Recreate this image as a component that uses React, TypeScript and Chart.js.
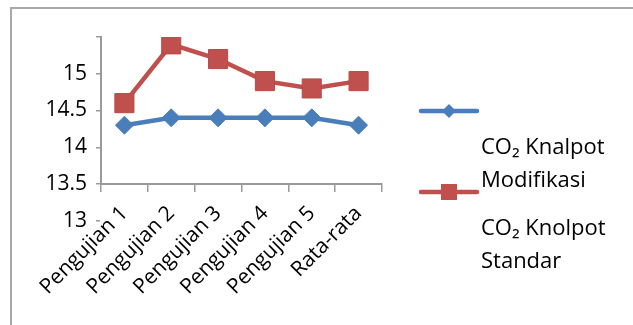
import React, { useEffect, useRef } from 'react';
import { Chart, registerables } from 'chart.js';

Chart.register(...registerables);

// Emission test categories and measured CO2 values
const categories = ['Pengujian 1', 'Pengujian 2', 'Pengujian 3', 'Pengujian 4', 'Pengujian 5', 'Rata-rata'];
const seriesNames = ['CO₂ Knalpot Modifikasi', 'CO₂ Knolpot Standar'];
const knalpotModifikasi = [14.3, 14.4, 14.4, 14.4, 14.4, 14.3];
const knolpotStandar = [14.6, 15.4, 15.2, 14.9, 14.8, 14.9];

// Value-axis ticks (the top tick carries no label)
const yTickValues = [13, 13.5, 14, 14.5, 15, 15.5];
const yTickLabels = ['13', '13.5', '14', '14.5', '15', ''];

const BLUE = '#4a7ebb';
const RED = '#c0504d';
const AXIS = '#9a9a9a';
const FONT = "'Open Sans', 'Noto Sans', sans-serif";

function drawMarker(ctx: CanvasRenderingContext2D, style: string, x: number, y: number, r: number, color: string) {
  ctx.save();
  ctx.fillStyle = color;
  ctx.beginPath();
  if (style === 'rectRot') {
    ctx.moveTo(x, y - r);
    ctx.lineTo(x + r, y);
    ctx.lineTo(x, y + r);
    ctx.lineTo(x - r, y);
    ctx.closePath();
  } else {
    ctx.rect(x - r, y - r, 2 * r, 2 * r);
  }
  ctx.fill();
  ctx.restore();
}

function wrapWords(ctx: CanvasRenderingContext2D, text: string, maxWidth: number): string[] {
  const words = text.split(' ');
  const lines: string[] = [];
  let current = '';
  for (const w of words) {
    const test = current ? current + ' ' + w : w;
    if (current && ctx.measureText(test).width > maxWidth) {
      lines.push(current);
      current = w;
    } else {
      current = test;
    }
  }
  if (current) lines.push(current);
  return lines;
}

// Side legend: a marker line per series, with its wrapped name set below it
const sideLegend = {
  id: 'sideLegend',
  afterDraw(chart: any) {
    const ctx: CanvasRenderingContext2D = chart.ctx;
    const area = chart.chartArea;
    const lineX0 = area.right + 39;
    const lineLen = 56;
    const textX = lineX0 + 60;
    const firstY = 111;
    const itemGap = 81;
    const textDy = 43;
    const lineGap = 33;
    chart.data.datasets.forEach((ds: any, i: number) => {
      const y = firstY + i * itemGap;
      ctx.save();
      ctx.strokeStyle = ds.borderColor;
      ctx.lineWidth = 4.5;
      ctx.lineCap = 'round';
      ctx.beginPath();
      ctx.moveTo(lineX0, y);
      ctx.lineTo(lineX0 + lineLen, y);
      ctx.stroke();
      ctx.restore();
      const style = ds.pointStyle;
      drawMarker(ctx, style, lineX0 + lineLen / 2, y, style === 'rectRot' ? 7 : 8, ds.borderColor);

      ctx.save();
      ctx.font = `22px ${FONT}`;
      ctx.fillStyle = '#000';
      ctx.textBaseline = 'alphabetic';
      ctx.textAlign = 'left';
      const lines = wrapWords(ctx, ds.label, 140);
      lines.forEach((ln, j) => {
        ctx.fillText(ln, textX, y + textDy + j * lineGap);
      });
      ctx.restore();
    });
  },
};

export default function App() {
  const canvasRef = useRef<HTMLCanvasElement | null>(null);

  useEffect(() => {
    if (!canvasRef.current) return;
    const chart = new Chart(canvasRef.current, {
      type: 'line',
      data: {
        labels: categories,
        datasets: [
          {
            label: seriesNames[0],
            data: knalpotModifikasi,
            borderColor: BLUE,
            backgroundColor: BLUE,
            borderWidth: 4.5,
            pointStyle: 'rectRot',
            pointRadius: 9,
            pointBorderWidth: 1,
            pointBackgroundColor: BLUE,
            pointBorderColor: BLUE,
            tension: 0,
          },
          {
            label: seriesNames[1],
            data: knolpotStandar,
            borderColor: RED,
            backgroundColor: RED,
            borderWidth: 4.5,
            pointStyle: 'rect',
            pointRadius: 13.5,
            pointBorderWidth: 1,
            pointBackgroundColor: RED,
            pointBorderColor: '#b94a47',
            tension: 0,
          },
        ],
      },
      options: {
        responsive: false,
        animation: false,
        devicePixelRatio: 1,
        layout: { padding: { top: 37, right: 251, left: 0, bottom: 0 } },
        plugins: {
          legend: { display: false },
          tooltip: { enabled: false },
        },
        scales: {
          x: {
            type: 'category',
            offset: true,
            grid: {
              offset: true,
              drawOnChartArea: false,
              drawTicks: true,
              tickLength: 8,
              color: AXIS,
              lineWidth: 1.5,
            },
            border: { display: true, color: AXIS, width: 2 },
            ticks: {
              maxRotation: 45,
              minRotation: 45,
              autoSkip: false,
              padding: 9,
              color: '#000',
              font: { family: FONT, size: 21 },
            },
            afterFit: (scale: any) => {
              scale.height = 141;
            },
          },
          y: {
            type: 'linear',
            min: 13.5,
            max: 15.5,
            grid: {
              drawOnChartArea: false,
              drawTicks: true,
              tickLength: 5,
              color: AXIS,
              lineWidth: 1.5,
            },
            border: { display: true, color: AXIS, width: 2 },
            afterBuildTicks: (scale: any) => {
              scale.ticks = yTickValues.map((v) => ({ value: v }));
            },
            ticks: {
              padding: 9,
              color: '#000',
              font: { family: FONT, size: 21 },
              callback: (_v: any, index: number) => yTickLabels[index],
            },
            afterFit: (scale: any) => {
              scale.width = 101;
            },
          },
        },
      },
      plugins: [sideLegend],
    });
    return () => chart.destroy();
  }, []);

  return (
    <div style={{ position: 'absolute', left: 0, top: 0, width: 633, height: 325, background: '#fff', overflow: 'hidden' }}>
      <div
        style={{
          position: 'absolute',
          left: 10,
          top: 7,
          width: 700,
          height: 400,
          borderLeft: '2px solid #a8a8a8',
          borderTop: '2px solid #a8a8a8',
        }}
      />
      <canvas ref={canvasRef} width={633} height={325} style={{ position: 'absolute', left: 0, top: 0 }} />
    </div>
  );
}
